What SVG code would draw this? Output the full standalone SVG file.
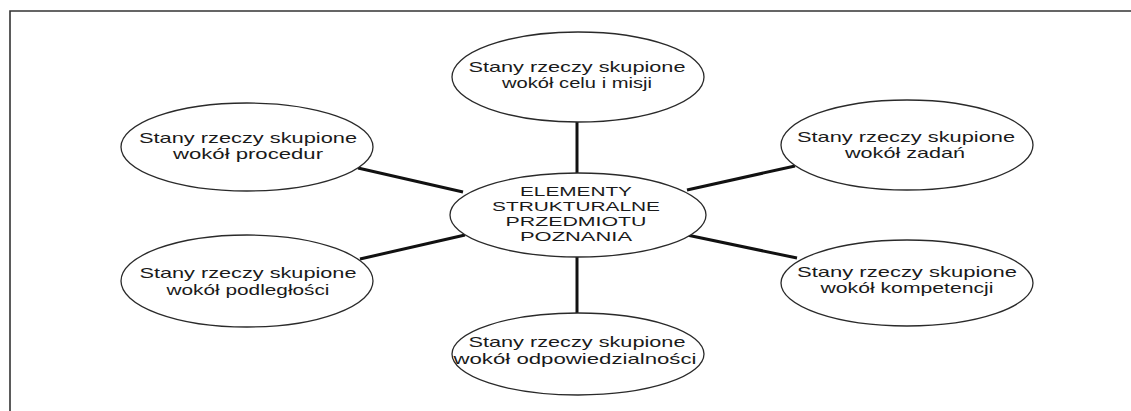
<svg xmlns="http://www.w3.org/2000/svg" width="1131" height="411" viewBox="0 0 1131 411">
  <style>
    .frame { fill: none; stroke: #333; stroke-width: 1.6; }
    .node ellipse { fill: #fff; stroke: #2a2a2a; stroke-width: 1.3; }
    .node text { font-family: "Liberation Sans", Arial, sans-serif; font-size: 15px; fill: #1a1a1a; text-anchor: middle; }
    .node.hub text { font-size: 13.5px; }
    .links line { stroke: #111; stroke-width: 3; stroke-linecap: butt; }
  </style>
  <rect width="1131" height="411" fill="#fff"/>
  <!-- page frame: top rule and left rule -->
  <path class="frame" d="M10 412 V11 H1131"/>

  <g class="links">
    <line x1="577" y1="121" x2="577" y2="174"/>
    <line x1="577" y1="257" x2="577" y2="316"/>
    <line x1="358" y1="168" x2="463" y2="192"/>
    <line x1="687" y1="190" x2="795" y2="166"/>
    <line x1="360" y1="259" x2="465" y2="235"/>
    <line x1="687" y1="235" x2="797" y2="258"/>
  </g>

  <g id="hub" class="node hub">
    <ellipse cx="578" cy="215" rx="128" ry="42"/>
    <text x="576" y="196" textLength="112" lengthAdjust="spacingAndGlyphs">ELEMENTY</text>
    <text x="576" y="211" textLength="168" lengthAdjust="spacingAndGlyphs">STRUKTURALNE</text>
    <text x="576" y="226" textLength="141" lengthAdjust="spacingAndGlyphs">PRZEDMIOTU</text>
    <text x="576" y="241" textLength="112" lengthAdjust="spacingAndGlyphs">POZNANIA</text>
  </g>

  <g id="cel" class="node">
    <ellipse cx="578" cy="77" rx="126" ry="45"/>
    <text x="577" y="72" textLength="217" lengthAdjust="spacingAndGlyphs">Stany rzeczy skupione</text>
    <text x="577" y="88" textLength="150" lengthAdjust="spacingAndGlyphs">wokół celu i misji</text>
  </g>

  <g id="procedury" class="node">
    <ellipse cx="247" cy="147" rx="126" ry="44"/>
    <text x="248" y="143" textLength="218" lengthAdjust="spacingAndGlyphs">Stany rzeczy skupione</text>
    <text x="248" y="159" textLength="150" lengthAdjust="spacingAndGlyphs">wokół procedur</text>
  </g>

  <g id="zadania" class="node">
    <ellipse cx="907" cy="145" rx="126" ry="45"/>
    <text x="906" y="142" textLength="218" lengthAdjust="spacingAndGlyphs">Stany rzeczy skupione</text>
    <text x="905" y="158" textLength="120" lengthAdjust="spacingAndGlyphs">wokół zadań</text>
  </g>

  <g id="podleglosc" class="node">
    <ellipse cx="247" cy="281" rx="126" ry="46"/>
    <text x="248" y="278" textLength="217" lengthAdjust="spacingAndGlyphs">Stany rzeczy skupione</text>
    <text x="248" y="295" textLength="163" lengthAdjust="spacingAndGlyphs">wokół podległości</text>
  </g>

  <g id="kompetencje" class="node">
    <ellipse cx="907" cy="283" rx="126" ry="43"/>
    <text x="907" y="277" textLength="220" lengthAdjust="spacingAndGlyphs">Stany rzeczy skupione</text>
    <text x="907" y="293" textLength="173" lengthAdjust="spacingAndGlyphs">wokół kompetencji</text>
  </g>

  <g id="odpowiedzialnosc" class="node">
    <ellipse cx="578" cy="354" rx="126" ry="41"/>
    <text x="577" y="347" textLength="217" lengthAdjust="spacingAndGlyphs">Stany rzeczy skupione</text>
    <text x="575" y="364" textLength="243" lengthAdjust="spacingAndGlyphs">wokół odpowiedzialności</text>
  </g>
</svg>
